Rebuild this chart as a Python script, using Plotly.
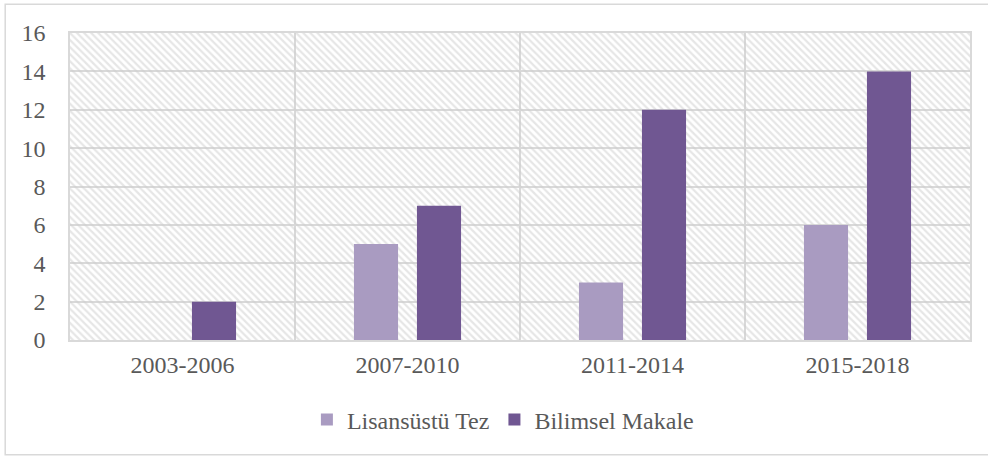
import plotly.graph_objects as go

# ── Data ──────────────────────────────────────────────────────────────────────

periods = ["2003-2006", "2007-2010", "2011-2014", "2015-2018"]
tez = [0, 5, 3, 6]            # Lisansüstü Tez
makale = [2, 7, 12, 14]       # Bilimsel Makale
y_ticks = [0, 2, 4, 6, 8, 10, 12, 14, 16]

TEXT = "#595959"
GRID = "#D9D9D9"
FONT = "Liberation Serif, Times New Roman, DejaVu Serif, serif"

fig = go.Figure()

# hatched plot background (one bar filling the whole base axes)
fig.add_trace(go.Bar(
    x=[0.5], y=[max(y_ticks)], width=[1],
    xaxis="x", yaxis="y",
    marker=dict(color="rgba(0,0,0,0)", line=dict(width=0),
                pattern=dict(shape="\\", fgcolor="#CDCDCD", bgcolor="rgba(0,0,0,0)",
                             size=5, solidity=0.45)),
    showlegend=False, hoverinfo="skip",
))

fig.add_trace(go.Bar(
    x=periods, y=tez, name="Lisansüstü Tez",
    xaxis="x2", yaxis="y2",
    marker=dict(color="#A99BC1", line=dict(width=0)),
))
fig.add_trace(go.Bar(
    x=periods, y=makale, name="Bilimsel Makale",
    xaxis="x2", yaxis="y2",
    marker=dict(color="#705792", line=dict(width=0)),
))

# outer chart border
fig.add_shape(type="rect", xref="paper", yref="paper",
              x0=-0.072, x1=1.05, y0=-0.374, y1=1.094,
              line=dict(color=GRID, width=1.5), layer="below")

fig.update_layout(
    width=988, height=456,
    margin=dict(l=70, r=18, t=33, b=116),
    paper_bgcolor="white", plot_bgcolor="white",
    font=dict(family=FONT, size=24, color=TEXT),
    barmode="group", bargap=0.44, bargroupgap=0.30,
    xaxis=dict(range=[0, 1], tickvals=[0.25, 0.5, 0.75], showticklabels=False,
               showgrid=True, gridcolor=GRID, gridwidth=1.5, zeroline=False,
               showline=True, linecolor=GRID, linewidth=1.5, mirror=True, ticks=""),
    yaxis=dict(range=[0, 16], tickvals=y_ticks, showgrid=True, gridcolor=GRID,
               gridwidth=1.5, zeroline=False, showline=True, linecolor=GRID,
               linewidth=1.5, mirror=True, ticks="", ticklabelstandoff=18,
               tickfont=dict(family=FONT, size=24, color=TEXT)),
    xaxis2=dict(overlaying="x", side="bottom", showgrid=False, zeroline=False,
                ticks="", ticklabelstandoff=8, showline=False,
                tickfont=dict(family=FONT, size=24, color=TEXT)),
    yaxis2=dict(overlaying="y", range=[0, 16], showticklabels=False,
                showgrid=False, zeroline=False),
    legend=dict(orientation="h", x=0.481, xanchor="center", y=-0.26,
                yanchor="middle", font=dict(family=FONT, size=24, color=TEXT),
                itemwidth=30, tracegroupgap=0),
    showlegend=True,
)

# page body has an 8px default margin; drop it so the figure sits at 0,0
fig.write_html("out.html", config={"displayModeBar": False},
               post_script="document.body.style.margin='0';")
